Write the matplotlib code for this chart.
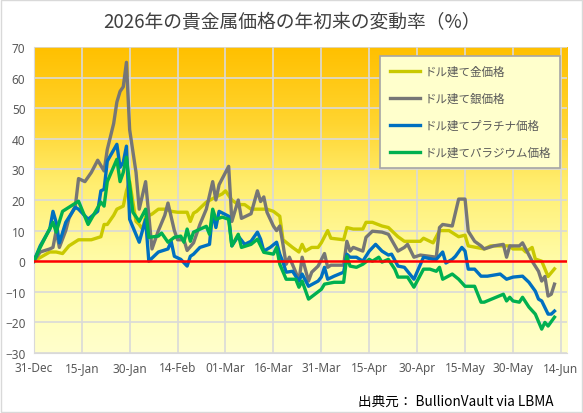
import numpy as np
import pandas as pd
import matplotlib
matplotlib.use('Agg')
import matplotlib.pyplot as plt
import matplotlib.dates as mdates
from matplotlib.colors import LinearSegmentedColormap

plt.rcParams['font.family'] = ['Noto Sans CJK JP', 'DejaVu Sans']

# ── データ（年初来の変動率 %、2025-12-31 からの経過日数） ─────────────────
START = pd.Timestamp('2025-12-31')

gold_days = [0, 5, 7, 9, 11, 14, 18, 21, 22, 23, 25, 26, 28, 29, 30, 32, 33, 34, 35, 37,
             39, 41, 43, 45, 48, 49, 50, 51, 54, 57, 59, 60, 62, 64, 66, 68, 70, 73, 75, 77,
             78, 81, 83, 84, 85, 87, 89, 90, 92, 93, 97, 98, 100, 103, 104, 106, 109, 111,
             114, 116, 119, 121, 122, 125, 127, 130, 133, 135, 136, 141, 143, 147, 149, 150,
             153, 154, 156, 157, 159, 161, 163]
gold_vals = [0, 3, 3, 2.5, 5, 7, 7, 8, 12, 12, 15, 17, 18, 23, 26, 13, 12, 10.5, 14.4, 15.4,
             17, 17, 16.3, 16, 16, 13, 15.7, 16.3, 19.3, 21, 22, 23, 20, 18.5, 18.5, 17, 17, 17,
             16.3, 14.7, 7, 4.5, 3, 5.5, 3.3, 4.5, 4.5, 6, 10, 7.5, 7, 11, 10.5, 10.5, 12.7,
             12.7, 11.5, 11, 8, 6.5, 6.5, 6.5, 7.5, 6, 10, 10, 8, 8.5, 5, 4, 5, 5, 5, 4,
             4, 3, 4.5, 0.7, 0, -5, -2.5]

silver_days = [0, 2, 5, 6, 7, 8, 10, 11, 13, 14, 16, 18, 20, 22, 23, 25, 26, 27, 28, 29,
               30, 32, 33, 35, 37, 39, 41, 42, 44, 45, 47, 48, 50, 52, 54, 56, 57, 58, 61, 62,
               64, 65, 68, 70, 71, 72, 73, 75, 76, 77, 78, 79, 80, 82, 83, 84, 86, 87, 89, 91,
               92, 93, 97, 98, 99, 100, 103, 104, 106, 109, 111, 114, 116, 117, 119, 121, 126,
               127, 128, 131, 133, 135, 136, 138, 140, 141, 144, 147, 148, 149, 152, 153, 154,
               156, 158, 159, 160, 161, 162, 163]
silver_vals = [0, 3, 4, 4.5, 10, 4.5, 10, 14, 18, 27, 26, 29, 33, 29.5, 36.5, 45, 52, 55.5, 57, 65,
               43, 29, 17, 26, 4, 10, 15, 19, 10, 7, 7, 3.5, 6, 12, 17, 26, 20, 25, 31, 13,
               20, 14, 15.5, 23, 19.5, 21, 16, 11.5, 10, 11.5, 5.5, -1, 1.3, -3.6, -6.5, 1.3,
               -6.5, -3.6, -1.6, 2.5, -2, -1.3, -1.3, 6.5, 3.3, 4.5, 3.3, 7.8, 9.8, 9.5, 8.8,
               3.3, 4.5, 5.5, 1.3, 2, 1.3, 11, 12, 11.5, 20.3, 20.3, 9.8, 6.5, 5, 4, 5, 5.5,
               1.3, 5, 5, 6, 4, 0, -3.3, -6.5, -5, -11.4, -10.8, -7.5]

plat_days = [0, 2, 5, 6, 7, 8, 10, 13, 14, 17, 20, 21, 22, 23, 26, 27, 28, 29, 30, 33,
             35, 36, 39, 42, 43, 44, 46, 48, 49, 50, 52, 55, 56, 57, 58, 61, 62, 64, 66, 68,
             70, 71, 72, 74, 76, 77, 78, 79, 81, 83, 84, 86, 89, 90, 91, 92, 94, 97, 98, 99,
             101, 103, 105, 107, 109, 111, 112, 114, 116, 119, 122, 125, 126, 128, 129, 131,
             132, 134, 135, 136, 138, 140, 142, 146, 148, 150, 153, 155, 157, 158, 159, 161,
             162, 163]
plat_vals = [0, 5, 10.5, 16.3, 12.7, 6, 12.7, 17.6, 17, 13.7, 16.3, 23, 23.5, 32.7, 38.2, 30.7,
             32.3, 37.6, 13.7, 6.2, 13.7, 0, 3, 4, 6.5, 1.6, 0.6, -1.6, 1.6, 2.3, 4.5, 5.5,
             16.3, 11, 16.3, 14.7, 5, 8.2, 5.5, 6.5, 9.5, 7.2, 3.3, 4.5, 6.2, 2.3, -0.3, -3.6,
             -3.3, -6.5, -4.2, -8.2, -6.5, -5.2, -2, -5.9, -4.9, -3.6, 2.3, 1.3, 1.3, 0, 3.3,
             5.5, 3.3, 2, 2.3, -1.6, -2, -5.9, 1.3, 0.6, 0.6, 3, -0.6, 0.6, 1.6, 4.5, 3.3,
             -2.6, -2.6, -4.9, -4.9, -4.2, -5.9, -5.2, -4.9, -6.9, -9.8, -12.4, -13, -17.3,
             -17.3, -16.3]

pall_days = [0, 2, 6, 7, 9, 14, 17, 21, 22, 23, 26, 27, 28, 29, 31, 33, 35, 36, 39, 40,
             42, 44, 46, 47, 48, 49, 50, 54, 55, 56, 57, 59, 61, 62, 64, 65, 68, 70, 72, 75,
             76, 77, 79, 82, 83, 84, 86, 88, 90, 91, 94, 97, 98, 99, 101, 103, 105, 106, 108,
             109, 111, 113, 114, 117, 119, 122, 124, 126, 127, 128, 131, 133, 135, 138, 140,
             141, 147, 148, 149, 150, 152, 153, 155, 157, 159, 160, 161, 163]
pall_vals = [0, 4.5, 12.7, 9.5, 16.3, 19.6, 12, 19.3, 18, 26, 33.3, 26, 29, 34, 16, 13, 17, 7.8,
             8.2, 9.2, 6.2, 7.8, 8.2, 6.2, 10.5, 6.5, 9.5, 11.4, 8.8, 17, 13.7, 14.4, 13.7, 5,
             8.8, 4.5, 5.5, 7.2, 2.9, 2.3, 4.5, -1, -5.9, -5.9, -8.5, -6.5, -12.4, -10.8, -9.2,
             -7.5, -6.9, -6.9, 1.6, -1.6, -2, -1, 0.6, 0, 1.3, -0.3, 0.6, -2.6, -5.2, -5.2,
             -8.5, -2.6, -2.6, -3.3, -2, -5.9, -4.2, -5.9, -8.2, -8.2, -13.4, -13.4, -10.8, -13,
             -11.8, -13, -13.4, -11.8, -15, -17.3, -22.2, -20, -21.2, -18.3]

SERIES = [
    ('ドル建て金価格',           gold_days,   gold_vals,   '#C9C900'),
    ('ドル建て銀価格',           silver_days, silver_vals, '#767676'),
    ('ドル建てプラチナ価格',     plat_days,   plat_vals,   '#0070C0'),
    ('ドル建てパラジウム価格',   pall_days,   pall_vals,   '#00B050'),
]

tick_labels = ['31-Dec', '15-Jan', '30-Jan', '14-Feb', '01-Mar', '16-Mar',
               '31-Mar', '15-Apr', '30-Apr', '15-May', '30-May', '14-Jun']

def to_dates(days):
    return START + pd.to_timedelta(days, unit='D')

# ── 図 ─────────────────────────────────────────────────────────────────────
fig = plt.figure(figsize=(5.83, 4.14), dpi=100, facecolor='white')
fig.patches.append(plt.Rectangle((0.002, 0.002), 0.996, 0.996, transform=fig.transFigure,
                                 fill=False, edgecolor='#D9D9D9', linewidth=1))
ax = fig.add_axes([0.058, 0.145, 0.915, 0.739])

xmin = START
xmax = START + pd.Timedelta(days=167)
ymin, ymax = -30, 70

# 背景グラデーション（上：オレンジ → 下：薄い黄色）
cmap = LinearSegmentedColormap.from_list(
    'bg', [(0.0, '#FFFFCC'), (0.3, '#FFFCA8'), (0.55, '#FFEE70'), (0.75, '#FFD530'), (1.0, '#FFC000')])
grad = np.linspace(0, 1, 256).reshape(-1, 1)
ax.imshow(grad, cmap=cmap, origin='lower', aspect='auto',
          extent=[mdates.date2num(xmin), mdates.date2num(xmax), ymin, ymax], zorder=0)

for name, days, vals, col in SERIES:
    ax.plot(to_dates(days), vals, color=col, linewidth=2.4, label=name, zorder=3,
            solid_joinstyle='round')

ax.axhline(0, color='#FF0000', linewidth=1.8, zorder=4)

ticks = [START + pd.Timedelta(days=15 * i) for i in range(len(tick_labels))]
ax.set_xticks(ticks)
ax.set_xticklabels(tick_labels)
ax.set_yticks(range(-30, 71, 10))
ax.set_xlim(xmin, xmax)
ax.set_ylim(ymin, ymax)
ax.grid(True, color='#D9D9D9', linewidth=1.2, zorder=1)
ax.set_axisbelow(True)
for sp in ax.spines.values():
    sp.set_visible(False)
for side in ('left', 'bottom'):
    ax.spines[side].set_visible(True)
    ax.spines[side].set_color('#D9D9D9')
ax.tick_params(length=0, labelsize=8.5, labelcolor='#595959', pad=6)
for lbl in ax.get_xticklabels() + ax.get_yticklabels():
    lbl.set_fontfamily(['Noto Sans', 'DejaVu Sans'])

leg = ax.legend(loc='upper right', bbox_to_anchor=(0.997, 0.99), fontsize=8.3,
                facecolor='#FFFFCC', edgecolor='#A6A6A6', framealpha=1, fancybox=False,
                labelspacing=1.2, handlelength=2.6, borderpad=0.8, handletextpad=0.4)
leg.get_frame().set_linewidth(1.2)
for t in leg.get_texts():
    t.set_color('#595959')

fig.text(0.5, 0.945, '2026年の貴金属価格の年初来の変動率（%）', ha='center', va='center',
         fontsize=13.5, color='#404040')
fig.text(0.95, 0.03, '出典元： BullionVault via LBMA', ha='right', va='center',
         fontsize=9.8, color='#000000')

fig.savefig('out.png', dpi=100, facecolor='white')
